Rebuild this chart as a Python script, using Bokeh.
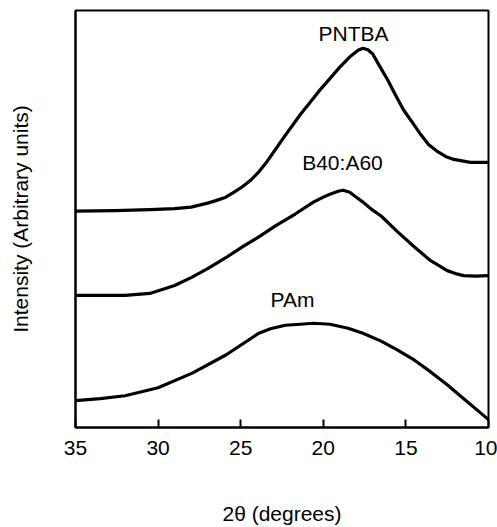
from bokeh.plotting import figure
from bokeh.models import Range1d, FixedTicker, ColumnDataSource
from bokeh.core.properties import value
from bokeh.embed import file_html
from bokeh.resources import INLINE

# Diffraction angle 2-theta (degrees) and stacked intensities (arbitrary units)
pntba_2theta = [35.0, 32.6, 30.5, 29.0, 28.0, 27.0, 26.5, 25.9, 25.4, 24.9, 24.4, 23.9,
                23.4, 22.9, 22.4, 21.4, 20.3, 19.0, 18.35, 17.9, 17.6, 17.3, 17.0, 16.66,
                16.1, 15.63, 15.15, 14.6, 14.1, 13.63, 13.1, 12.6, 12.1, 11.1, 10.0]
pntba_int = [218, 218.5, 219.5, 220.5, 222, 226, 228.5, 232, 237, 242.5, 249, 257.5,
             268, 280, 292, 315, 338, 363, 374, 380, 382, 380.5, 376, 366,
             350, 335, 320, 307, 295, 285, 278, 273, 270, 267, 267]

b40a60_2theta = [35.0, 32.0, 30.5, 29.0, 28.0, 27.0, 25.9, 24.9, 23.9, 22.9, 21.7, 20.6,
                 20.0, 19.6, 19.1, 18.8, 18.4, 18.0, 17.6, 17.1, 16.5, 15.5, 14.5, 13.5,
                 12.5, 12.0, 11.5, 10.8, 10.0]
b40a60_int = [133, 133, 135, 143, 151, 160, 171, 182, 192, 203, 215, 227,
              232, 235, 238, 239, 237, 232, 227, 220, 213, 197, 182, 168,
              158, 155, 153, 152.5, 153]

pam_2theta = [35.0, 33.5, 32.0, 30.0, 27.9, 25.9, 23.9, 23.2, 22.3, 21.4, 20.6, 19.6,
              18.5, 17.6, 16.5, 15.5, 14.5, 13.5, 12.5, 11.5, 10.5, 10.0]
pam_int = [27, 29, 32, 40, 55, 73, 95, 99.5, 103, 104, 105, 104,
           100, 95, 87, 78, 68, 56, 43, 29, 15, 8]

curve_names = ["PNTBA", "B40:A60", "PAm"]
name_2theta = [18.17, 18.84, 21.86]
name_int = [397, 267, 129]

x_ticks = [35, 30, 25, 20, 15, 10]

FONT = "Liberation Sans"
SIZE = "21px"

p = figure(width=497, height=527, output_backend="svg", toolbar_location=None,
           x_range=Range1d(35, 10), y_range=Range1d(0, 420),
           min_border_left=75, min_border_right=9, min_border_top=10, min_border_bottom=97,
           background_fill_color="white", border_fill_color="white")

p.outline_line_color = "black"
p.outline_line_width = 2
p.xgrid.visible = False
p.ygrid.visible = False

# Bottom axis: labels every 5 degrees, short ticks pointing into the frame
p.xaxis.ticker = FixedTicker(ticks=x_ticks)
p.xaxis.major_tick_in = 8
p.xaxis.major_tick_out = 0
p.xaxis.major_tick_line_color = "black"
p.xaxis.major_tick_line_width = 2
p.xaxis.minor_tick_line_color = None
p.xaxis.axis_line_width = 2
p.xaxis.axis_line_color = "black"
p.xaxis.major_label_standoff = 13
p.xaxis.major_label_text_font = FONT
p.xaxis.major_label_text_font_size = SIZE
p.xaxis.major_label_text_color = "black"
p.xaxis.axis_label = "2θ (degrees)"
p.xaxis.axis_label_text_font = FONT
p.xaxis.axis_label_text_font_size = SIZE
p.xaxis.axis_label_text_font_style = "normal"
p.xaxis.axis_label_text_color = "black"
p.xaxis.axis_label_standoff = 44

# Left axis: title only
p.yaxis.ticker = FixedTicker(ticks=[])
p.yaxis.major_tick_line_color = None
p.yaxis.minor_tick_line_color = None
p.yaxis.axis_line_width = 2
p.yaxis.axis_line_color = "black"
p.yaxis.axis_label = "Intensity (Arbitrary units)"
p.yaxis.axis_label_text_font = FONT
p.yaxis.axis_label_text_font_size = SIZE
p.yaxis.axis_label_text_font_style = "normal"
p.yaxis.axis_label_text_color = "black"
p.yaxis.axis_label_standoff = 44

for xs, ys in [(pntba_2theta, pntba_int), (b40a60_2theta, b40a60_int), (pam_2theta, pam_int)]:
    p.line(xs, ys, line_color="black", line_width=3.2, line_join="round", line_cap="round")

src = ColumnDataSource(dict(x=name_2theta, y=name_int, t=curve_names))
p.text(x="x", y="y", text="t", source=src, text_align="center", text_baseline="middle",
       text_font=value(FONT), text_font_size=SIZE, text_color="black")

open("out.html", "w").write(file_html(p, INLINE))
